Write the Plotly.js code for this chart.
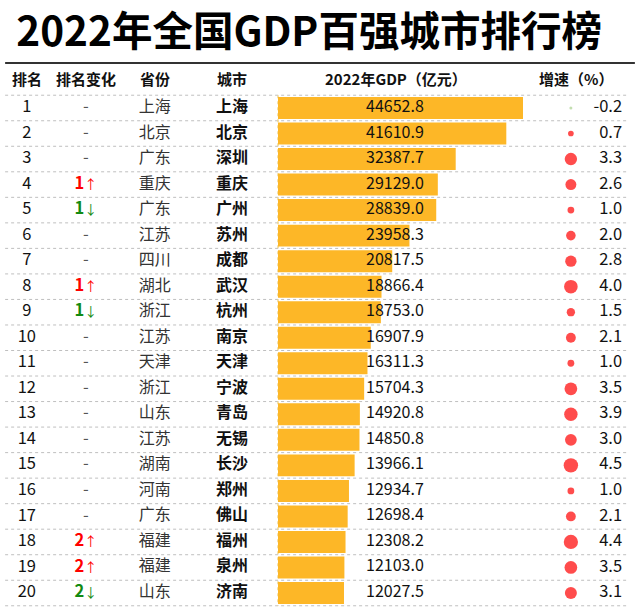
<!DOCTYPE html>
<html>
<head>
<meta charset="utf-8">
<script src="https://cdn.plot.ly/plotly-3.0.1.min.js"></script>
<style>html,body{margin:0;padding:0;background:#fff;}#chart{width:640px;height:607px;}</style>
</head>
<body>
<div id="chart"></div>
<script>
// ---- data ----
const ranks = [1,2,3,4,5,6,7,8,9,10,11,12,13,14,15,16,17,18,19,20];
const rankChange = ['-','-','-','1↑','1↓','-','-','1↑','1↓','-','-','-','-','-','-','-','-','2↑','2↑','2↓'];
const provinces = ['上海','北京','广东','重庆','广东','江苏','四川','湖北','浙江','江苏','天津','浙江','山东','江苏','湖南','河南','广东','福建','福建','山东'];
const cities = ['上海','北京','深圳','重庆','广州','苏州','成都','武汉','杭州','南京','天津','宁波','青岛','无锡','长沙','郑州','佛山','福州','泉州','济南'];
const gdp = [44652.8,41610.9,32387.7,29129.0,28839.0,23958.3,20817.5,18866.4,18753.0,16907.9,16311.3,15704.3,14920.8,14850.8,13966.1,12934.7,12698.4,12308.2,12103.0,12027.5];
const growth = [-0.2,0.7,3.3,2.6,1.0,2.0,2.8,4.0,1.5,2.1,1.0,3.5,3.9,3.0,4.5,1.0,2.1,4.4,3.5,3.1];
const headers = ['排名','排名变化','省份','城市','2022年GDP（亿元）','增速（%）'];
const titleText = '2022年全国GDP百强城市排行榜';

// ---- styling ----
const FONT = 'Noto Sans CJK SC, Noto Sans, sans-serif';
const colX = {rank:0.042, change:0.134, prov:0.242, city:0.3625, gdpText:0.572, dot:0.892, growthText:0.972};
const headerX = [0.042, 0.134, 0.242, 0.3625, 0.619, 0.9];

const changeText = rankChange.map(c => c === '-' ? '-' :
  '<b>' + c.slice(0, -1) + '</b><span style="font-size:13px">' + c.slice(-1) + '</span>');
const changeColor = rankChange.map(c => c.endsWith('↑') ? '#FF0000' : (c.endsWith('↓') ? '#128A12' : '#555555'));
const rowConst = v => ranks.map(() => v);

const traces = [
  {type:'bar', orientation:'h', x:gdp, y:ranks, width:0.86,
   marker:{color:'#FDB727'}, hoverinfo:'skip', xaxis:'x', yaxis:'y'},
  {type:'scatter', mode:'text', x:rowConst(colX.rank), y:ranks, text:ranks.map(String),
   textposition:'middle center', textfont:{family:FONT, size:16.5, color:'#111'}, xaxis:'x2', yaxis:'y', hoverinfo:'skip'},
  {type:'scatter', mode:'text', x:rowConst(colX.change), y:ranks, text:changeText,
   textposition:'middle center', textfont:{family:FONT, size:16.5, color:changeColor}, xaxis:'x2', yaxis:'y', hoverinfo:'skip'},
  {type:'scatter', mode:'text', x:rowConst(colX.prov), y:ranks, text:provinces,
   textposition:'middle center', textfont:{family:FONT, size:16, color:'#333'}, xaxis:'x2', yaxis:'y', hoverinfo:'skip'},
  {type:'scatter', mode:'text', x:rowConst(colX.city), y:ranks, text:cities,
   textposition:'middle center', textfont:{family:FONT, size:16, color:'#111', weight:'bold'}, xaxis:'x2', yaxis:'y', hoverinfo:'skip'},
  {type:'scatter', mode:'text', x:rowConst(colX.gdpText), y:ranks, text:gdp.map(v => v.toFixed(1)),
   textposition:'middle right', textfont:{family:FONT, size:16, color:'#111'}, xaxis:'x2', yaxis:'y', hoverinfo:'skip'},
  {type:'scatter', mode:'markers', x:rowConst(colX.dot), y:ranks,
   marker:{size:growth.map(g => 6.8*Math.sqrt(Math.abs(g))), color:growth.map(g => g < 0 ? '#A9D08E' : '#FF0000'), line:{width:0}},
   xaxis:'x2', yaxis:'y', hoverinfo:'skip'},
  {type:'scatter', mode:'text', x:rowConst(colX.growthText), y:ranks, text:growth.map(g => g.toFixed(1)),
   textposition:'middle left', textfont:{family:FONT, size:16.5, color:'#111'}, xaxis:'x2', yaxis:'y', hoverinfo:'skip'}
];

const shapes = [];
for (let k = 0; k <= ranks.length; k++) {
  shapes.push({type:'line', xref:'paper', yref:'y', x0:0.008, x1:0.982, y0:k+0.5, y1:k+0.5,
    line:{color:'#BFBFBF', width:1, dash:'dot'}, layer:'below'});
}
shapes.push({type:'line', xref:'x', yref:'y', x0:0, x1:0, y0:0.5, y1:ranks.length+0.5,
  line:{color:'#F2D68A', width:1.5, dash:'dot'}, layer:'below'});
shapes.push({type:'line', xref:'paper', yref:'paper', x0:0.008, x1:0.992, y0:0.8962, y1:0.8962,
  line:{color:'#333', width:2}});

const annotations = headers.map((h, i) => ({
  text:'<b>' + h + '</b>', xref:'paper', yref:'y', x:headerX[i], y:-0.15,
  xanchor:'center', yanchor:'middle', showarrow:false,
  font:{family:FONT, size:15, color:'#111'}
}));

const layout = {
  width:640, height:607,
  margin:{l:0, r:0, t:0, b:0},
  paper_bgcolor:'#fff', plot_bgcolor:'#fff',
  showlegend:false,
  title:{text:'<b>' + titleText + '</b>', x:0.483, xanchor:'center', y:0.947, yanchor:'middle',
    font:{family:FONT, size:40.5, color:'#000'}},
  xaxis:{range:[-50668, 65978], visible:false, fixedrange:true},
  xaxis2:{range:[0,1], overlaying:'x', visible:false, fixedrange:true},
  yaxis:{range:[20.548, -3.23], visible:false, fixedrange:true},
  shapes:shapes,
  annotations:annotations
};

Plotly.newPlot('chart', traces, layout, {displayModeBar:false, staticPlot:true});
</script>
</body>
</html>
